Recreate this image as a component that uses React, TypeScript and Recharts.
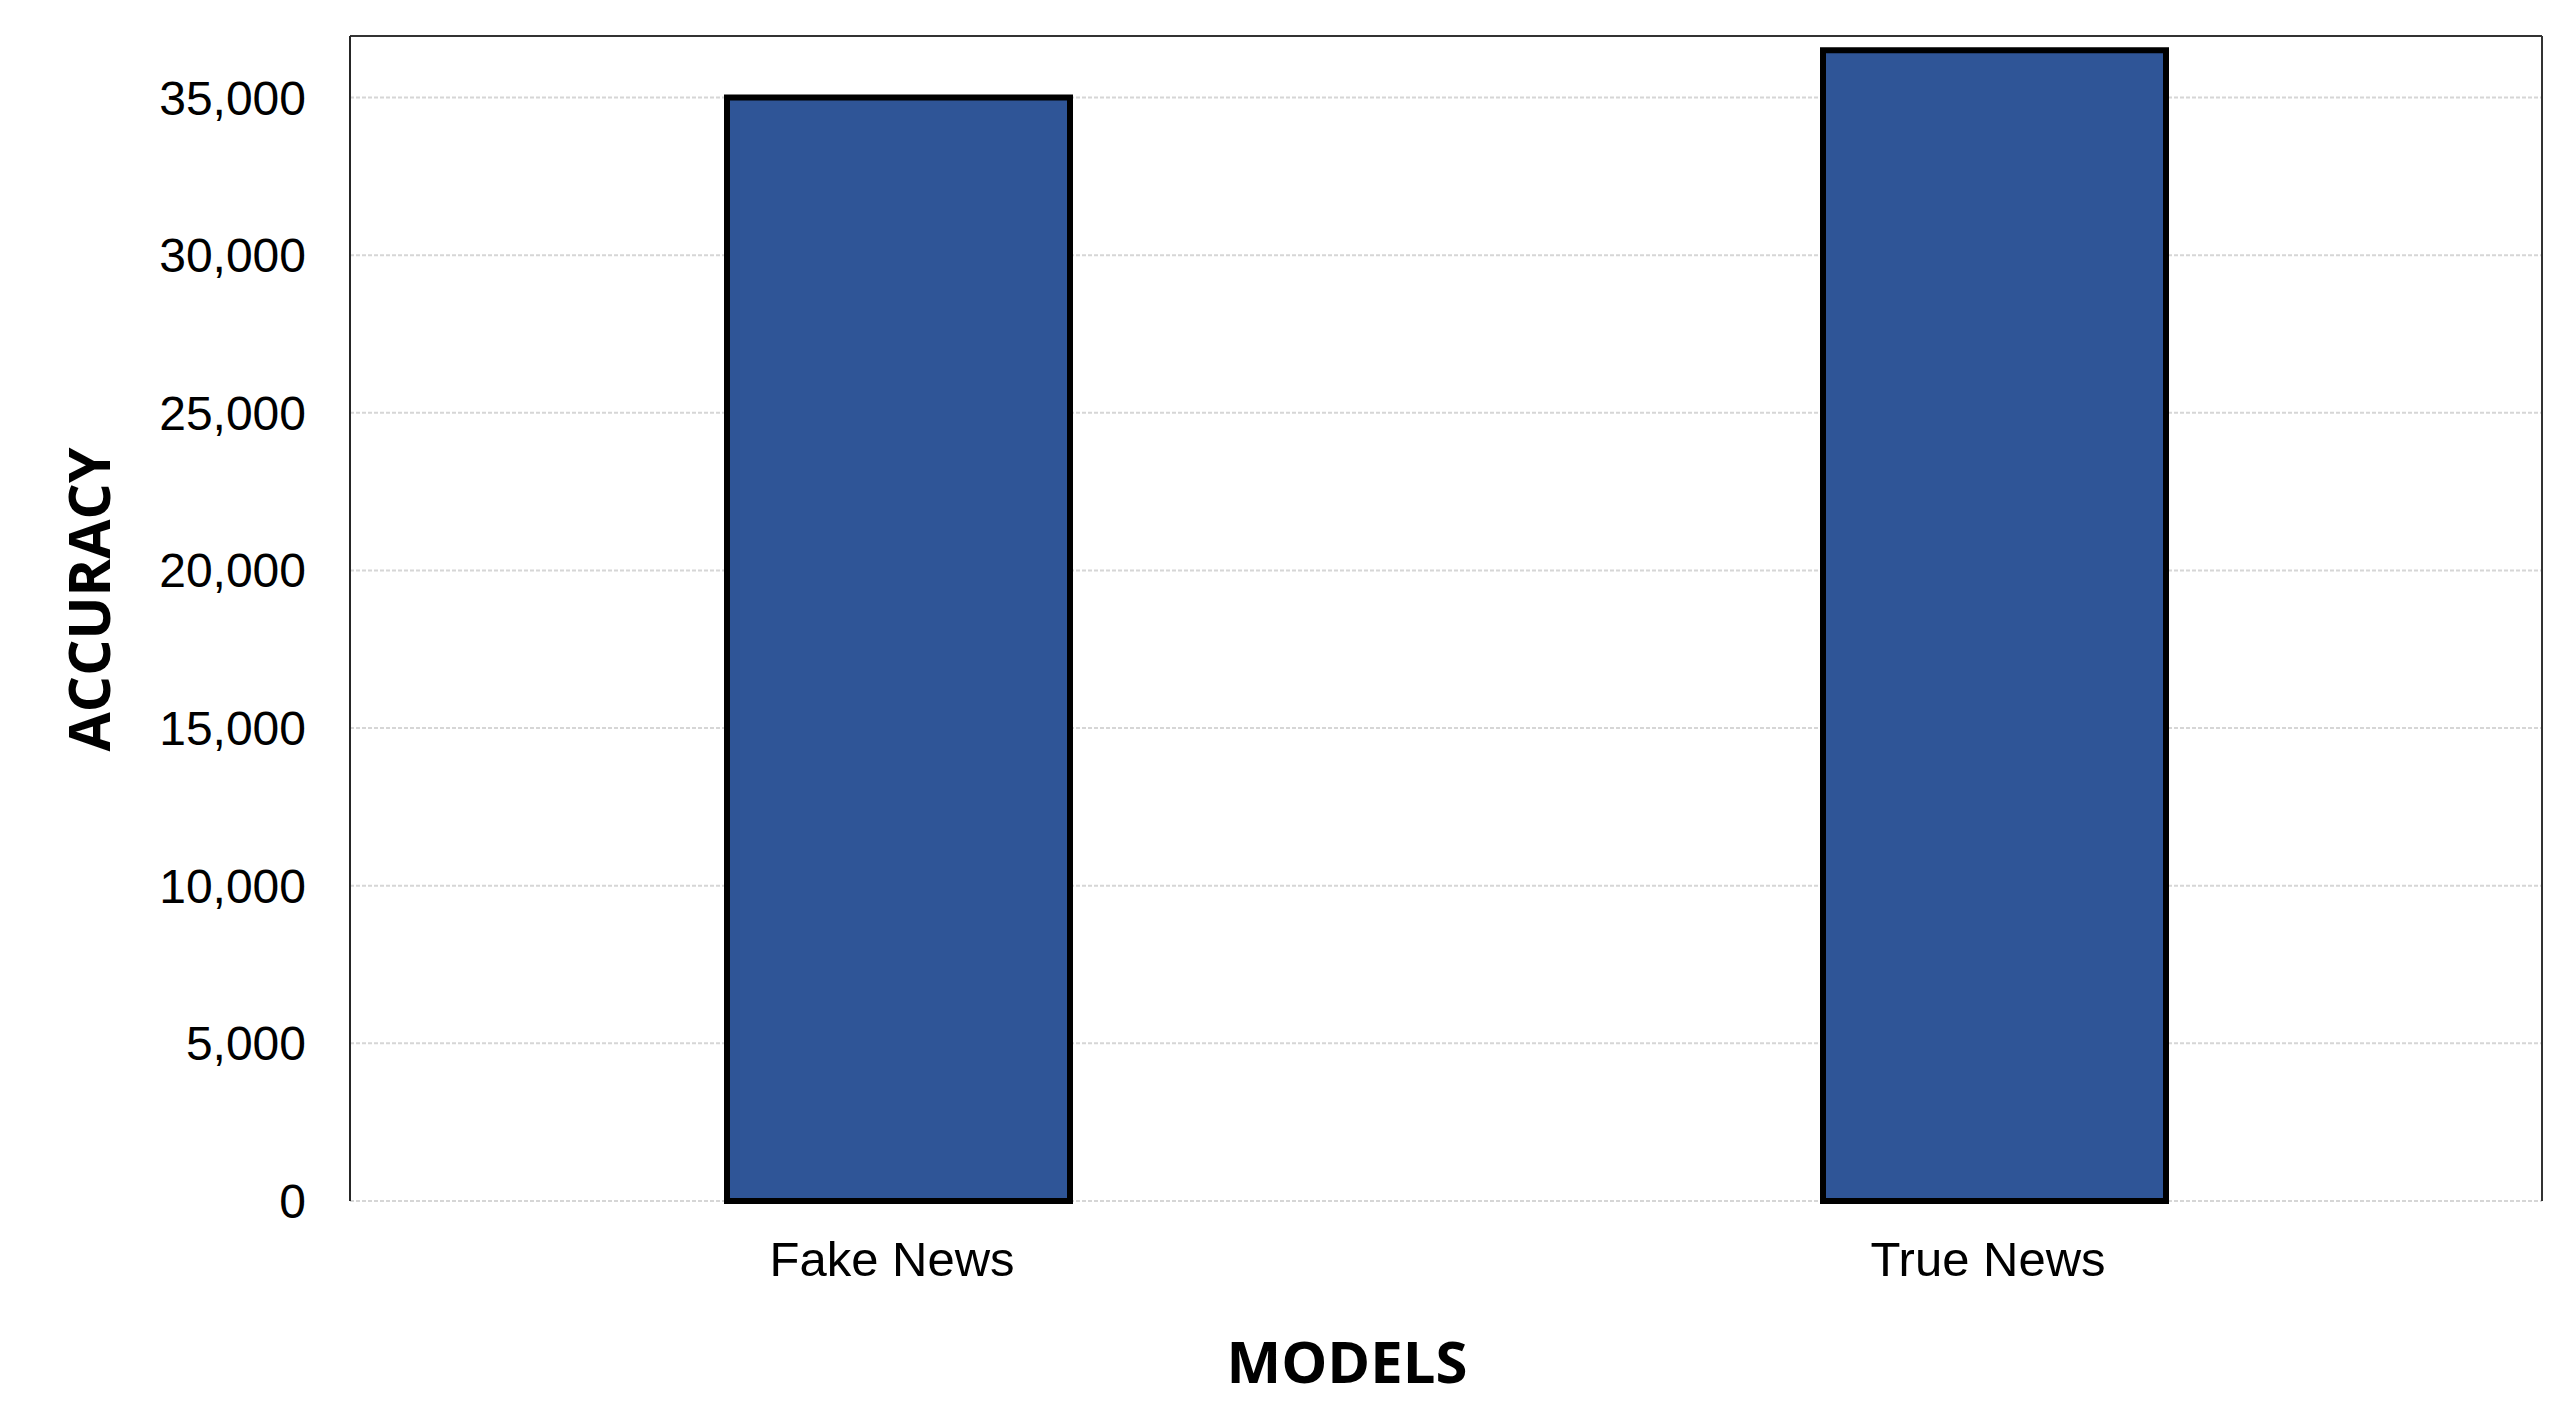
import React from 'react'
import { BarChart, Bar, XAxis, YAxis, CartesianGrid, ReferenceLine } from 'recharts'

const categories = ['Fake News', 'True News']
const counts = [35000, 36500]
const yTicks = [0, 5000, 10000, 15000, 20000, 25000, 30000, 35000]
const yMax = 36950

const data = categories.map((name, i) => ({ name, value: counts[i] }))

const fmt = (v: number) => v.toLocaleString('en-US')

const App = () => {
  return (
    <div style={{ position: 'absolute', left: 0, top: 0, background: '#fff' }}>
      <BarChart
        width={2568}
        height={1423}
        data={data}
        margin={{ top: 36, right: 25, bottom: 0, left: 0 }}
      >
        <CartesianGrid vertical={false} stroke="#d6d6d6" strokeWidth={2} strokeDasharray="4 2" />
        <XAxis
          dataKey="name"
          axisLine={false}
          tickLine={false}
          tickSize={0}
          tickMargin={40}
          height={222}
          tick={{ fontFamily: 'Liberation Sans, Arial, sans-serif', fontSize: 49, fill: '#000', dx: -6 }}
          label={({ viewBox }: any) => (
            <text
              x={viewBox.x + viewBox.width / 2 - 99}
              y={viewBox.y + 182}
              textAnchor="middle"
              fontFamily="Open Sans"
              fontWeight="bold"
              fontSize={58}
              fill="#000"
            >
              MODELS
            </text>
          )}
        />
        <YAxis
          domain={[0, yMax]}
          ticks={yTicks}
          width={350}
          tickFormatter={fmt}
          tickLine={false}
          tickSize={0}
          tickMargin={44}
          axisLine={{ stroke: '#262626', strokeWidth: 2 }}
          tick={{ fontFamily: 'Liberation Sans, Arial, sans-serif', fontSize: 48, fill: '#000' }}
          label={({ viewBox }: any) => {
            const x = viewBox.x + 110
            const y = viewBox.y + viewBox.height / 2 - 19
            return (
              <text
                x={x}
                y={y}
                transform={`rotate(-90, ${x}, ${y})`}
                textAnchor="middle"
                fontFamily="Open Sans"
                fontWeight="bold"
                fontSize={57}
                fill="#000"
              >
                ACCURACY
              </text>
            )
          }}
        />
        <YAxis
          yAxisId="right"
          orientation="right"
          width={1}
          domain={[0, yMax]}
          tick={false}
          tickLine={false}
          axisLine={{ stroke: '#333', strokeWidth: 2 }}
        />
        <ReferenceLine y={yMax} stroke="#333" strokeWidth={2} ifOverflow="extendDomain" />
        <Bar dataKey="value" barSize={343} fill="#2F5597" stroke="#000" strokeWidth={6} isAnimationActive={false} />
      </BarChart>
    </div>
  )
}

export default App
